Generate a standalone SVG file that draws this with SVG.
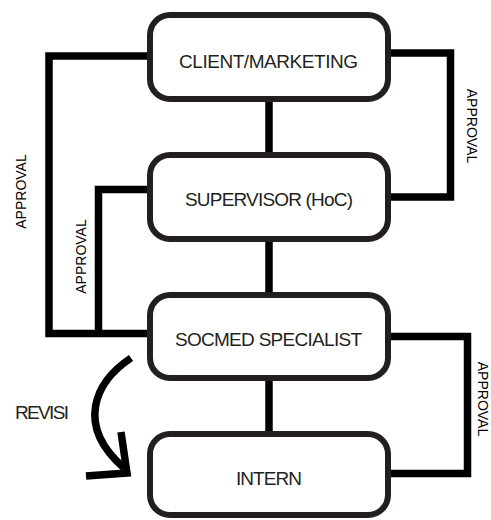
<svg xmlns="http://www.w3.org/2000/svg" width="491" height="520" viewBox="0 0 491 520">
  <style>
    .conn { fill: none; stroke: #000; stroke-width: 7.5; stroke-linejoin: miter; stroke-linecap: butt; }
    .box { fill: #fff; stroke: #231f20; stroke-width: 6; }
    .lbl { font-family: "Liberation Sans", Arial, sans-serif; font-size: 19px; fill: #231f20; text-anchor: middle; }
    .appr { font-family: "Liberation Sans", Arial, sans-serif; font-size: 14px; fill: #000; text-anchor: middle; }
  </style>
  <rect width="491" height="520" fill="#fff"/>
  <g id="connectors">
    <polyline class="conn" points="150,56 49,56 49,333.5 150,333.5"/>
    <polyline class="conn" stroke-width="6.5" points="150,189.5 98.5,189.5 98.5,333.5"/>
    <polyline class="conn" points="388,53 450.5,53 450.5,197 388,197"/>
    <polyline class="conn" points="388,336.5 467.5,336.5 467.5,473.5 388,473.5"/>
    <line class="conn" stroke-width="8" x1="269" y1="99" x2="269" y2="155"/>
    <line class="conn" stroke-width="8" x1="269" y1="239" x2="269" y2="295"/>
    <line class="conn" stroke-width="8" x1="269" y1="378" x2="269" y2="434"/>
    <path class="conn" stroke-width="7" d="M 131 358 C 95 382 75 425 124 468"/>
    <polyline class="conn" stroke-width="7" points="121,432 127,473 86,476"/>
  </g>
  <g id="node-client">
    <rect class="box" x="150" y="15" width="238" height="84" rx="20"/>
    <text class="lbl" x="268.5" y="68" textLength="179">CLIENT/MARKETING</text>
  </g>
  <g id="node-supervisor">
    <rect class="box" x="150" y="155" width="238" height="84" rx="20"/>
    <text class="lbl" x="269" y="206" textLength="168">SUPERVISOR (HoC)</text>
  </g>
  <g id="node-socmed">
    <rect class="box" x="150" y="295" width="238" height="83" rx="20"/>
    <text class="lbl" x="268.5" y="346" textLength="187">SOCMED SPECIALIST</text>
  </g>
  <g id="node-intern">
    <rect class="box" x="150" y="434" width="238" height="81" rx="20"/>
    <text class="lbl" x="269" y="485" textLength="66">INTERN</text>
  </g>
  <g id="labels">
    <text class="appr" transform="translate(26,191.5) rotate(-90)">APPROVAL</text>
    <text class="appr" transform="translate(86,256.5) rotate(-90)">APPROVAL</text>
    <text class="appr" transform="translate(467,126) rotate(90)">APPROVAL</text>
    <text class="appr" transform="translate(478,399) rotate(90)">APPROVAL</text>
    <text class="lbl" x="15" y="419" textLength="54" style="text-anchor:start">REVISI</text>
  </g>
</svg>
